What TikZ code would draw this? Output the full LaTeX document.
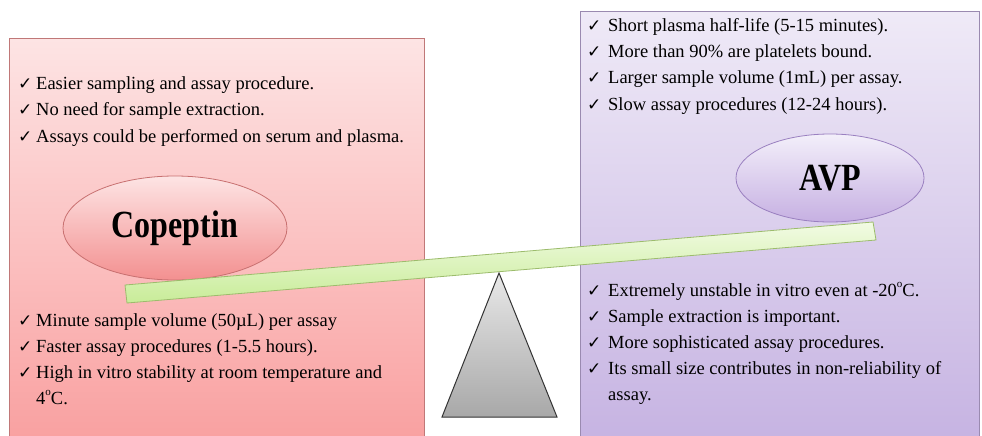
\documentclass[tikz,border=0pt]{standalone}
\usepackage{fontspec}
\setmainfont{Liberation Serif}
\newfontfamily\symfont{DejaVu Sans}
\usetikzlibrary{shapes.geometric}
\newcommand\mychk{{\symfont\fontsize{17}{17}\selectfont ✓}}
\newcommand\degsup{\raisebox{0.45em}{\fontsize{11}{11}\selectfont o}}
\definecolor{pinkTop}{HTML}{FDE4E4}
\definecolor{pinkBot}{HTML}{F9A0A0}
\definecolor{pinkLine}{HTML}{C07878}
\definecolor{lavTop}{HTML}{EFEAF7}
\definecolor{lavBot}{HTML}{C6B3E2}
\definecolor{lavLine}{HTML}{9A8AB0}
\definecolor{cpTop}{HTML}{FDE4E4}
\definecolor{cpBot}{HTML}{F39090}
\definecolor{cpLine}{HTML}{C87070}
\definecolor{avTop}{HTML}{F3EFFA}
\definecolor{avBot}{HTML}{C6B0E2}
\definecolor{avLine}{HTML}{9A80C0}
\definecolor{bmTop}{HTML}{F2FBE4}
\definecolor{bmBot}{HTML}{C8EC98}
\definecolor{bmLine}{HTML}{9CBC6C}
\definecolor{trTop}{HTML}{E8E8E8}
\definecolor{trBot}{HTML}{A8A8A8}
\tikzset{
  panel/.style={rectangle, anchor=north west, inner sep=0pt, line width=0.8pt},
  bubble/.style={ellipse, inner sep=0pt, line width=0.8pt},
  itemtext/.style={anchor=base west, inner sep=0pt, font=\fontsize{18.5}{22}\selectfont},
}
\begin{document}
\begin{tikzpicture}[x=1pt, y=-1pt]
\useasboundingbox (0,0) rectangle (982,436);
\fill[white] (0,0) rectangle (982,436);
% panels
\node[panel, draw=pinkLine, top color=pinkTop, bottom color=pinkBot,
      minimum width=415pt, minimum height=404pt] (leftpanel) at (9,38) {};
\node[panel, draw=lavLine, top color=lavTop, bottom color=lavBot,
      minimum width=399pt, minimum height=430pt] (rightpanel) at (580,11) {};
% bubbles
\node[bubble, draw=cpLine, top color=cpTop, bottom color=cpBot,
      minimum width=224pt, minimum height=104pt] (copeptin) at (175,228)
      {\bfseries\fontsize{32}{34}\selectfont\scalebox{1}[1.2]{Copeptin}};
\node[bubble, draw=avLine, top color=avTop, bottom color=avBot,
      minimum width=188pt, minimum height=88pt] (avp) at (830,178)
      {\bfseries\fontsize{32}{34}\selectfont\scalebox{1}[1.2]{AVP}};
% left top list
\foreach \t [count=\i] in {{Easier sampling and assay procedure.},
                           {No need for sample extraction.},
                           {Assays could be performed on serum and plasma.}}
  \node[itemtext] (lt\i) at (18, 89+26.5*\i-26.5) {\makebox[18pt][l]{\mychk}\t};
% left bottom list
\foreach \t [count=\i] in {{Minute sample volume (50µL) per assay},
                           {Faster assay procedures (1-5.5 hours).},
                           {High in vitro stability at room temperature and}}
  \node[itemtext] (lb\i) at (18, 326+26*\i-26) {\makebox[18pt][l]{\mychk}\t};
\node[itemtext] (lb4) at (36,404) {4\degsup C.};
% right top list
\foreach \t [count=\i] in {{Short plasma half-life (5-15 minutes).},
                           {More than 90\% are platelets bound.},
                           {Larger sample volume (1mL) per assay.},
                           {Slow assay procedures (12-24 hours).}}
  \node[itemtext] (rt\i) at (587, 32+26*\i-26) {\makebox[21pt][l]{\mychk}\t};
% right bottom list
\foreach \t [count=\i] in {{Extremely unstable in vitro even at -20\degsup C.},
                           {Sample extraction is important.},
                           {More sophisticated assay procedures.},
                           {Its small size contributes in non-reliability of}}
  \node[itemtext] (rb\i) at (587, 296+26*\i-26) {\makebox[21pt][l]{\mychk}\t};
\node[itemtext] (rb5) at (608,400) {assay.};
% fulcrum
\draw[line width=1pt, draw=black!80, top color=trTop, bottom color=trBot]
  (499,273) -- (557,417) -- (442,417) -- cycle;
% beam
\draw[line width=0.8pt, draw=bmLine, top color=bmTop, bottom color=bmBot]
  (125,285) -- (873,222) -- (876,240) -- (127,303) -- cycle;
\end{tikzpicture}
\end{document}
